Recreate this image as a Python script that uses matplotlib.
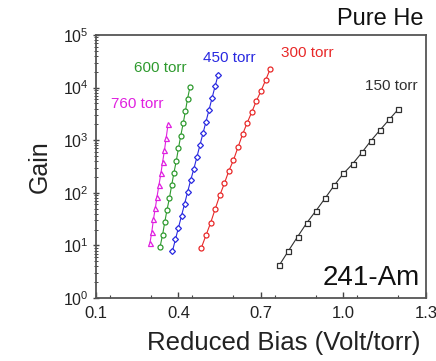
import numpy as np
import matplotlib
matplotlib.use("Agg")
import matplotlib.pyplot as plt
from matplotlib.ticker import MultipleLocator, LogLocator, NullFormatter

plt.rcParams['font.family'] = ['Liberation Sans', 'DejaVu Sans']
plt.rcParams['mathtext.fontset'] = 'custom'
plt.rcParams['mathtext.rm'] = 'Liberation Sans'

# reduced bias (Volt/torr) and gain
x_760 = [0.296, 0.303, 0.309, 0.316, 0.322, 0.329, 0.336, 0.342, 0.349, 0.355, 0.362]
g_760 = [11, 18.2, 31.6, 52.5, 85, 141, 234, 380, 646, 1096, 2000]

x_600 = [0.333, 0.342, 0.350, 0.358, 0.367, 0.375, 0.383, 0.392, 0.400, 0.408,
         0.417, 0.425, 0.433, 0.442]
g_600 = [9.4, 15.8, 27.5, 46.8, 79.4, 138, 234, 407, 708, 1202, 2089, 3548, 6166, 10470]

x_450 = [0.378, 0.389, 0.400, 0.411, 0.422, 0.433, 0.444, 0.456, 0.467, 0.478,
         0.489, 0.500, 0.511, 0.522, 0.533, 0.544]
g_450 = [7.8, 13.1, 21.9, 36.7, 61.4, 103, 172, 288, 482, 807, 1350, 2260, 3780,
         6330, 10600, 17400]

x_300 = [0.483, 0.500, 0.517, 0.533, 0.550, 0.567, 0.583, 0.600, 0.617, 0.633,
         0.650, 0.667, 0.683, 0.700, 0.717, 0.733]
g_300 = [9.0, 15.6, 27, 48.5, 88.9, 152, 260, 420, 752, 1294, 2153, 3482, 5562,
         8616, 13940, 22280]

x_150 = [0.767, 0.800, 0.833, 0.867, 0.900, 0.933, 0.967, 1.000, 1.033, 1.067,
         1.100, 1.133, 1.167, 1.200]
g_150 = [4.24, 7.9, 14.6, 27, 45.6, 78.6, 140, 233, 353, 584, 980, 1563, 2497, 3918]

labels = ['760 torr', '600 torr', '450 torr', '300 torr', '150 torr']
colors = ['#e020e0', '#2e9a2e', '#2828e0', '#e82828', '#303030']
markers = ['^', 'o', 'D', 'o', 's']

fig = plt.figure(figsize=(4.36, 3.61), dpi=100)
ax = fig.add_axes([0.2202, 0.1745, 0.7568, 0.7285])

series = [(x_760, g_760), (x_600, g_600), (x_450, g_450), (x_300, g_300), (x_150, g_150)]
for (xs, gs), c, m in zip(series, colors, markers):
    ms = 3.0 if m == 'D' else 3.6
    ax.plot(xs, gs, color=c, marker=m, markersize=ms, markerfacecolor='white',
            markeredgewidth=0.9, linewidth=0.8)

# series labels
label_pos = [(0.249, 4880), (0.333, 23600), (0.585, 36600), (0.867, 45500), (1.173, 10700)]
for lab, c, (lx, ly) in zip(labels, colors, label_pos):
    ax.text(lx, ly, lab, color=c, fontsize=11, ha='center', va='center')

ax.text(0.982, 0.076, '241-Am', transform=ax.transAxes, fontsize=20,
        ha='right', va='center', color='#111111')
ax.text(0.994, 1.06, 'Pure He', transform=ax.transAxes, fontsize=17,
        ha='right', va='center', color='#111111')

ax.set_yscale('log')
ax.set_xlim(0.1, 1.3)
ax.set_ylim(1, 1e5)
ax.xaxis.set_minor_locator(MultipleLocator(0.15))
ax.set_xticks([0.1, 0.4, 0.7, 1.0, 1.3])
ax.set_xticklabels(['0.1', '0.4', '0.7', '1.0', '1.3'])
ax.yaxis.set_major_locator(LogLocator(base=10, numticks=10))
ax.yaxis.set_minor_locator(LogLocator(base=10, subs=np.arange(2, 10), numticks=10))
ax.yaxis.set_minor_formatter(NullFormatter())

ax.tick_params(axis='x', which='major', direction='in', length=4, width=1,
               labelsize=12, pad=6, colors='#444444', labelcolor='#222222')
ax.tick_params(axis='x', which='minor', direction='in', length=2.5, width=0.8,
               colors='#444444')
ax.tick_params(axis='y', which='major', direction='inout', length=5, width=1,
               labelsize=11.5, pad=3, colors='#444444', labelcolor='#222222')
ax.tick_params(axis='y', which='minor', direction='inout', length=2.5, width=0.7,
               colors='#444444')

for sp in ax.spines.values():
    sp.set_color('#555555')
    sp.set_linewidth(1.3)

ax.set_xlabel('Reduced Bias (Volt/torr)', fontsize=18.5, color='#222222')
ax.xaxis.set_label_coords(0.57, -0.125)
ax.set_ylabel('Gain', fontsize=18, color='#222222', labelpad=8)

fig.savefig('out.png', dpi=100)
